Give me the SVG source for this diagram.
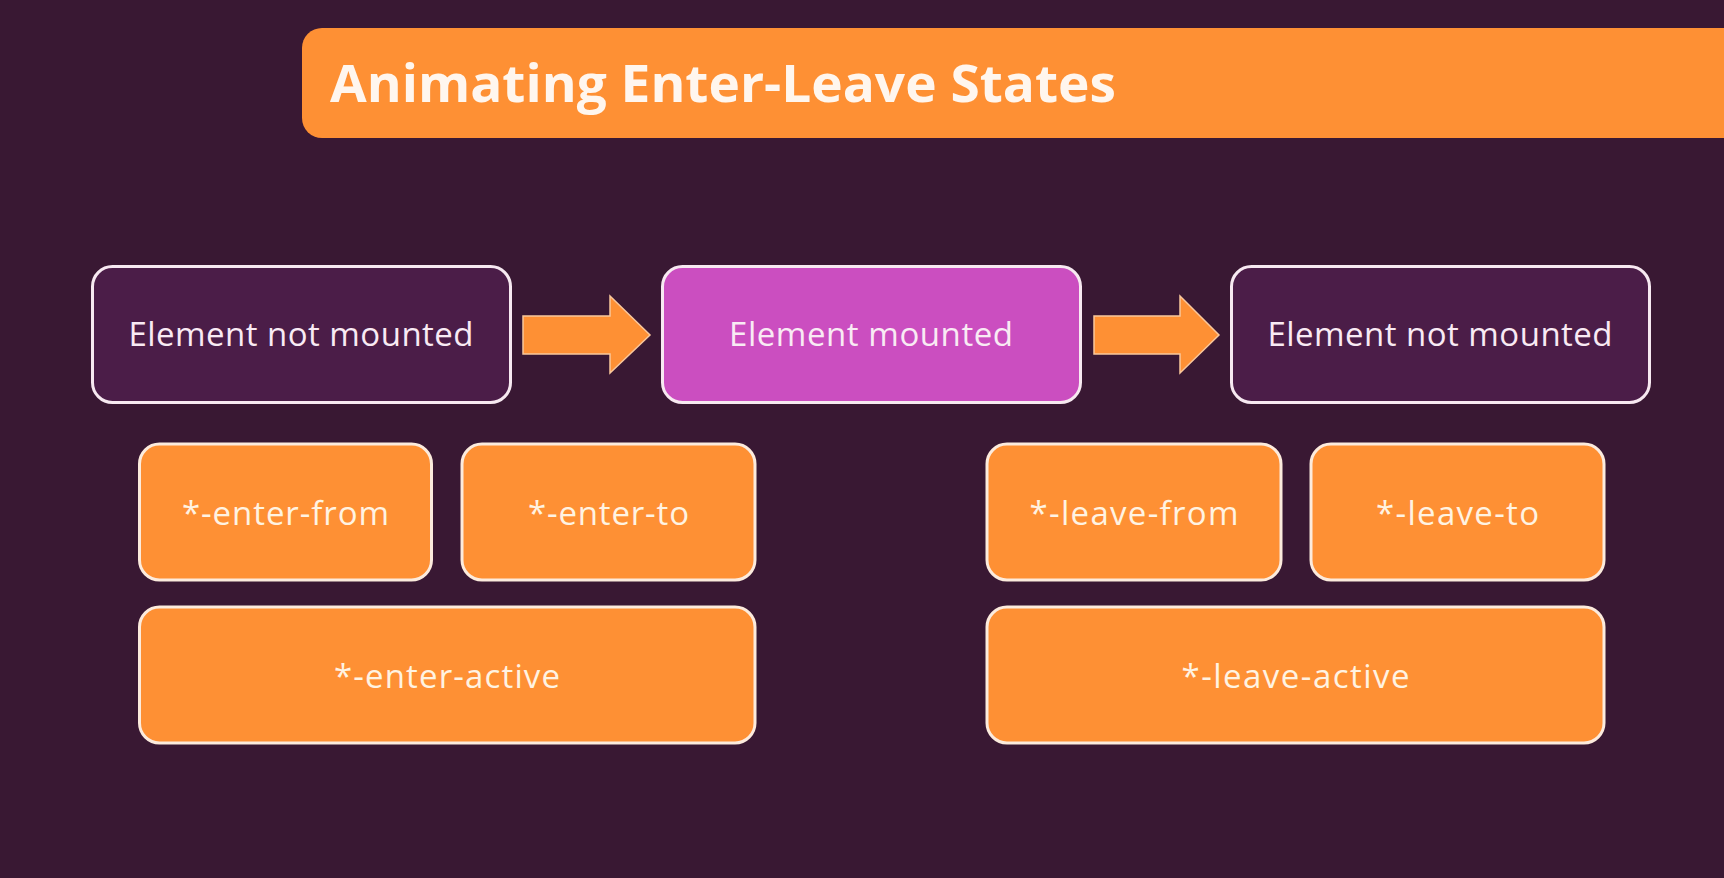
<svg xmlns="http://www.w3.org/2000/svg" width="1724" height="878" viewBox="0 0 1724 878">
<style>
  .bg { fill: #391833; }
  .title-bar { fill: #FE9034; }
  .title { font-family: "Open Sans", "Liberation Sans", sans-serif; font-weight: 700; font-size: 52px; fill: #FFF6EE; }
  .state { stroke: #F7E9F1; stroke-width: 3; }
  .dark { fill: #4B1D48; }
  .magenta { fill: #CB4EC0; }
  .cls { fill: #FE9034; stroke: #FCEBDD; stroke-width: 3; }
  .lbl { font-family: "Open Sans", "Liberation Sans", sans-serif; font-size: 33px; fill: #F9EAF4; text-anchor: middle; }
  .lbl-o { font-family: "Open Sans", "Liberation Sans", sans-serif; font-size: 33px; fill: #FFF3E2; text-anchor: middle; }
  .arrow { fill: #FE9034; stroke: #F9C79C; stroke-width: 1.5; stroke-linejoin: miter; }
</style>
<rect class="bg" x="0" y="0" width="1724" height="878"/>

<g id="title">
  <rect class="title-bar" x="302" y="28" width="1460" height="110" rx="20" ry="20"/>
  <text class="title" x="330" y="102" textLength="786" lengthAdjust="spacingAndGlyphs">Animating Enter-Leave States</text>
</g>

<g id="connectors">
  <polygon class="arrow" points="523,316 610,316 610,296 650,335 610,373 610,354 523,354"/>
  <polygon class="arrow" points="1094,316 1180,316 1180,296 1219,335 1180,373 1180,354 1094,354"/>
</g>

<g id="node-not-mounted-1">
  <rect class="state dark" x="92.5" y="266.5" width="418" height="136" rx="20" ry="20"/>
  <text class="lbl" x="301" y="346" textLength="345">Element not mounted</text>
</g>
<g id="node-mounted">
  <rect class="state magenta" x="662.5" y="266.5" width="418" height="136" rx="20" ry="20"/>
  <text class="lbl" x="871" y="346" textLength="284">Element mounted</text>
</g>
<g id="node-not-mounted-2">
  <rect class="state dark" x="1231.5" y="266.5" width="418" height="136" rx="20" ry="20"/>
  <text class="lbl" x="1440" y="346" textLength="345">Element not mounted</text>
</g>

<g id="node-enter-from">
  <rect class="cls" x="139.5" y="444" width="292" height="136" rx="20" ry="20"/>
  <text class="lbl-o" x="285.5" y="525" textLength="207">*-enter-from</text>
</g>
<g id="node-enter-to">
  <rect class="cls" x="462" y="444" width="293" height="136" rx="20" ry="20"/>
  <text class="lbl-o" x="608.5" y="525" textLength="161">*-enter-to</text>
</g>
<g id="node-enter-active">
  <rect class="cls" x="139.5" y="607" width="615.5" height="136" rx="20" ry="20"/>
  <text class="lbl-o" x="447" y="688" textLength="226">*-enter-active</text>
</g>

<g id="node-leave-from">
  <rect class="cls" x="987" y="444" width="294" height="136" rx="20" ry="20"/>
  <text class="lbl-o" x="1134" y="525" textLength="209">*-leave-from</text>
</g>
<g id="node-leave-to">
  <rect class="cls" x="1311" y="444" width="293" height="136" rx="20" ry="20"/>
  <text class="lbl-o" x="1457.5" y="525" textLength="163">*-leave-to</text>
</g>
<g id="node-leave-active">
  <rect class="cls" x="987" y="607" width="617" height="136" rx="20" ry="20"/>
  <text class="lbl-o" x="1295.5" y="688" textLength="228">*-leave-active</text>
</g>
</svg>
